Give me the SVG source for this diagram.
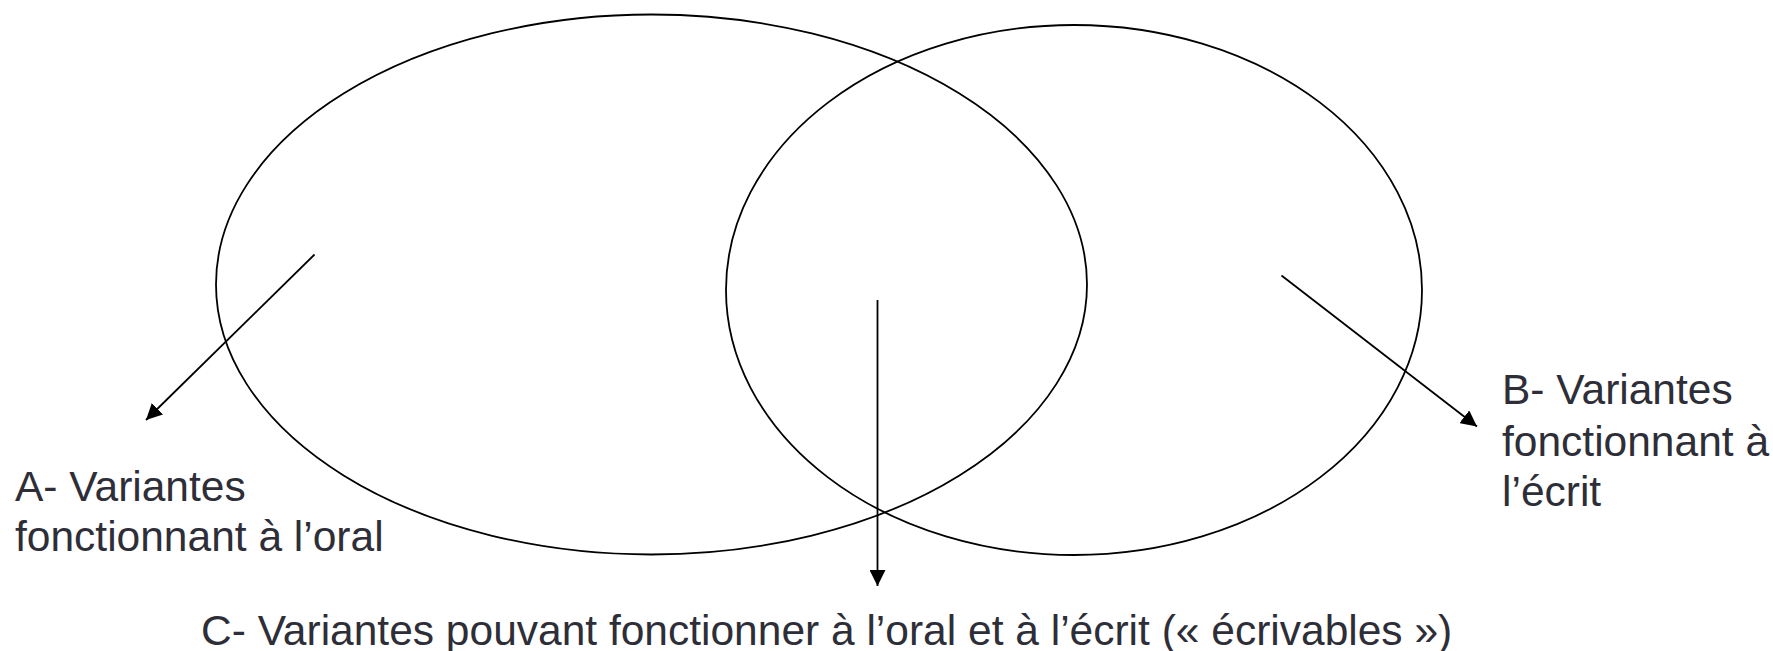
<svg xmlns="http://www.w3.org/2000/svg" width="1773" height="651" viewBox="0 0 1773 651">
  <defs>
    <marker id="arrow" markerUnits="userSpaceOnUse" markerWidth="16" markerHeight="16" refX="16" refY="8" orient="auto">
      <path d="M0,0 L16,8 L0,16 z" fill="#000"/>
    </marker>
    <style>
      .set { fill: none; stroke: #000; stroke-width: 1.8; }
      .conn { fill: none; stroke: #000; stroke-width: 1.8; marker-end: url(#arrow); }
      .lbl { font-family: "Liberation Sans", Arial, sans-serif; font-size: 42.5px; fill: #2e2e38; }
    </style>
  </defs>
  <rect width="1773" height="651" fill="#fff"/>
  <g id="set-oral">
    <ellipse class="set" cx="651.5" cy="284.5" rx="435.5" ry="270"/>
  </g>
  <g id="set-ecrit">
    <ellipse class="set" cx="1074" cy="290" rx="348" ry="265"/>
  </g>
  <g id="connectors">
    <line class="conn" x1="314.5" y1="254.5" x2="146" y2="420"/>
    <line class="conn" x1="1281.5" y1="275.5" x2="1477" y2="426.5"/>
    <line class="conn" x1="877.5" y1="300" x2="877.5" y2="586"/>
  </g>
  <g id="label-a">
    <text class="lbl" x="15" y="501">A- Variantes</text>
    <text class="lbl" x="15" y="551">fonctionnant à l’oral</text>
  </g>
  <g id="label-b">
    <text class="lbl" x="1502" y="404">B- Variantes</text>
    <text class="lbl" x="1502" y="456">fonctionnant à</text>
    <text class="lbl" x="1502" y="506">l’écrit</text>
  </g>
  <g id="label-c">
    <text class="lbl" x="201" y="645">C- Variantes pouvant fonctionner à l’oral et à l’écrit (« écrivables »)</text>
  </g>
</svg>
